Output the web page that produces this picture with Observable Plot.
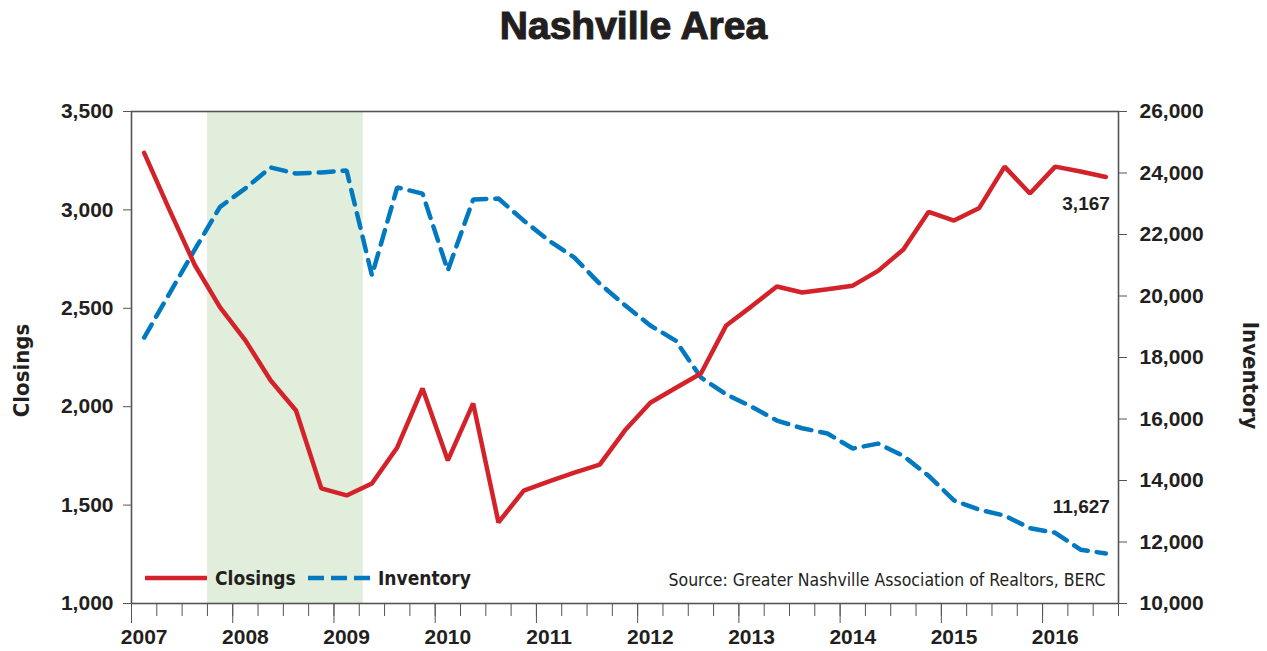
<!DOCTYPE html>
<html><head><meta charset="utf-8">
<script src="https://cdn.jsdelivr.net/npm/d3@7"></script>
<script src="https://cdn.jsdelivr.net/npm/@observablehq/plot@0.6"></script>
<style>
body{margin:0;background:#fff;}
#wrap{position:relative;width:1267px;height:651px;overflow:hidden;}
#title{position:absolute;top:4px;left:0;width:1267px;text-align:center;font-family:"Liberation Sans",Arial,sans-serif;font-weight:bold;font-size:39px;color:#231f20;-webkit-text-stroke:1.1px #231f20;}
#chart{position:absolute;top:58px;left:0;}
</style></head><body>
<div id="wrap"><div id="title">Nashville Area</div><div id="chart"></div></div>
<script>
const periods = ["2007Q1","2007Q2","2007Q3","2007Q4","2008Q1","2008Q2","2008Q3","2008Q4",
"2009Q1","2009Q2","2009Q3","2009Q4","2010Q1","2010Q2","2010Q3","2010Q4",
"2011Q1","2011Q2","2011Q3","2011Q4","2012Q1","2012Q2","2012Q3","2012Q4",
"2013Q1","2013Q2","2013Q3","2013Q4","2014Q1","2014Q2","2014Q3","2014Q4",
"2015Q1","2015Q2","2015Q3","2015Q4","2016Q1","2016Q2","2016Q3"];
const closings = [3290,3000,2720,2505,2337,2133,1981,1585,
1549,1610,1793,2093,1727,2017,1412,1574,
1620,1665,1706,1880,2020,2095,2169,2413,
2510,2611,2580,2597,2615,2690,2799,2990,
2946,3010,3220,3083,3220,3195,3167];
const inventory = [18650,20080,21510,22900,23500,24180,23980,24020,
24080,20670,23530,23330,20830,23140,23170,22450,
21800,21250,20400,19700,19040,18550,17350,16800,
16400,15950,15700,15530,15040,15200,14800,14150,
13350,13050,12860,12450,12300,11750,11627];
const closingTicks = [1000,1500,2000,2500,3000,3500];
const inventoryTicks = [10000,12000,14000,16000,18000,20000,22000,24000,26000];
const years = [2007,2008,2009,2010,2011,2012,2013,2014,2015,2016];
const recessionStart = 2007.75, recessionEnd = 2009.29;
const seriesNames = ["Closings","Inventory"];
const seriesColors = ["#d3222a","#0079c1"];
const sourceText = "Source: Greater Nashville Association of Realtors, BERC";

const FONT = '"Liberation Sans",Arial,sans-serif';
const CFONT = '"DejaVu Sans Condensed","Liberation Sans",sans-serif';
const toX = p => +p.slice(0,4) + (+p.slice(5) - 0.5) / 4;
const invMin = inventoryTicks[0], invMax = inventoryTicks[inventoryTicks.length-1];
const cMin = closingTicks[0], cMax = closingTicks[closingTicks.length-1];
const invToC = v => cMin + (v - invMin) * (cMax - cMin) / (invMax - invMin);
const cToInv = c => invMin + (c - cMin) * (invMax - invMin) / (cMax - cMin);

const data = periods.map((p,i) => ({x: toX(p), closings: closings[i], inventory: inventory[i], invC: invToC(inventory[i])}));
const last = data[data.length-1];
const fmt = d3.format(",");
const quarterTicks = d3.range(years[0]*4, (years[years.length-1]+0.75)*4 + 1).map(q => q/4);

const chart = Plot.plot({
  width: 1267, height: 593,
  marginTop: 53, marginBottom: 48, marginLeft: 131, marginRight: 149,
  style: {fontFamily: FONT, fontSize: "21px", fontWeight: "bold", color: "#231f20", background: "transparent"},
  x: {domain: [years[0], years[years.length-1] + 0.75]},
  y: {domain: [cMin, cMax]},
  marks: [
    Plot.rect([{a: recessionStart, b: recessionEnd}], {x1: "a", x2: "b", fill: "#e1eedc"}),
    Plot.line(data, {x: "x", y: "invC", stroke: seriesColors[1], strokeWidth: 4.5, strokeDasharray: "15,9", strokeLinejoin: "miter"}),
    Plot.line(data, {x: "x", y: "closings", stroke: seriesColors[0], strokeWidth: 4.5, strokeLinejoin: "miter"}),
    Plot.frame({stroke: "#555", strokeWidth: 1.6}),
    Plot.axisY({anchor: "left", ticks: closingTicks, tickSize: 8, tickPadding: 10, tickFormat: fmt, stroke: "#555", label: null, fontSize: 21}),
    Plot.axisY({anchor: "right", ticks: inventoryTicks.map(invToC), tickSize: 8, tickPadding: 13, tickFormat: c => fmt(Math.round(cToInv(c))), stroke: "#555", label: null, fontSize: 21}),
    Plot.axisX({ticks: quarterTicks, tickSize: 13, tickFormat: () => "", stroke: "#555", label: null}),
    Plot.axisX({ticks: years, tickSize: 20, tickFormat: () => "", stroke: "#555", label: null}),
    Plot.axisX({ticks: years.map(y => y + 0.125), tickSize: 0, tickPadding: 26, tickFormat: d => String(Math.floor(d)), label: null, fontSize: 21}),
    Plot.text([seriesNames[0]], {frameAnchor: "left", dx: -110, dy: 13, rotate: -90, textAnchor: "middle", fontSize: 22, fontWeight: "bold", fontFamily: CFONT}),
    Plot.text([seriesNames[1]], {frameAnchor: "right", dx: 132, dy: 18, rotate: 90, textAnchor: "middle", fontSize: 22, fontWeight: "bold", fontFamily: CFONT}),
    Plot.text([sourceText], {frameAnchor: "bottom-right", dx: -13, dy: -23, fontSize: 17.5, fontWeight: "normal", textAnchor: "end", lineAnchor: "middle", fontFamily: CFONT}),
    Plot.text([last], {x: "x", y: "closings", text: d => fmt(d.closings), dx: 4, dy: 27, textAnchor: "end", fontSize: 19, fontWeight: "bold"}),
    Plot.text([last], {x: "x", y: "invC", text: d => fmt(d.inventory), dx: 4, dy: -47, textAnchor: "end", fontSize: 19, fontWeight: "bold"})
  ]
});
document.getElementById("chart").appendChild(chart);

// legend inside plot area
const svg = d3.select(chart);
const lg = svg.append("g");
const legendItems = [
  {name: seriesNames[0], color: seriesColors[0], dash: null, x: 145},
  {name: seriesNames[1], color: seriesColors[1], dash: "16,7", x: 308}
];
const ly = 578 - 58;
legendItems.forEach(it => {
  lg.append("line").attr("x1", it.x).attr("x2", it.x + 62).attr("y1", ly).attr("y2", ly)
    .attr("stroke", it.color).attr("stroke-width", 4.5).attr("stroke-dasharray", it.dash);
  lg.append("text").attr("x", it.x + 70).attr("y", ly).attr("dy", "0.35em")
    .attr("text-anchor", "start").attr("font-family", CFONT)
    .attr("font-size", 19).attr("font-weight", "bold").attr("fill", "#231f20").text(it.name);
});
</script>
</body></html>
